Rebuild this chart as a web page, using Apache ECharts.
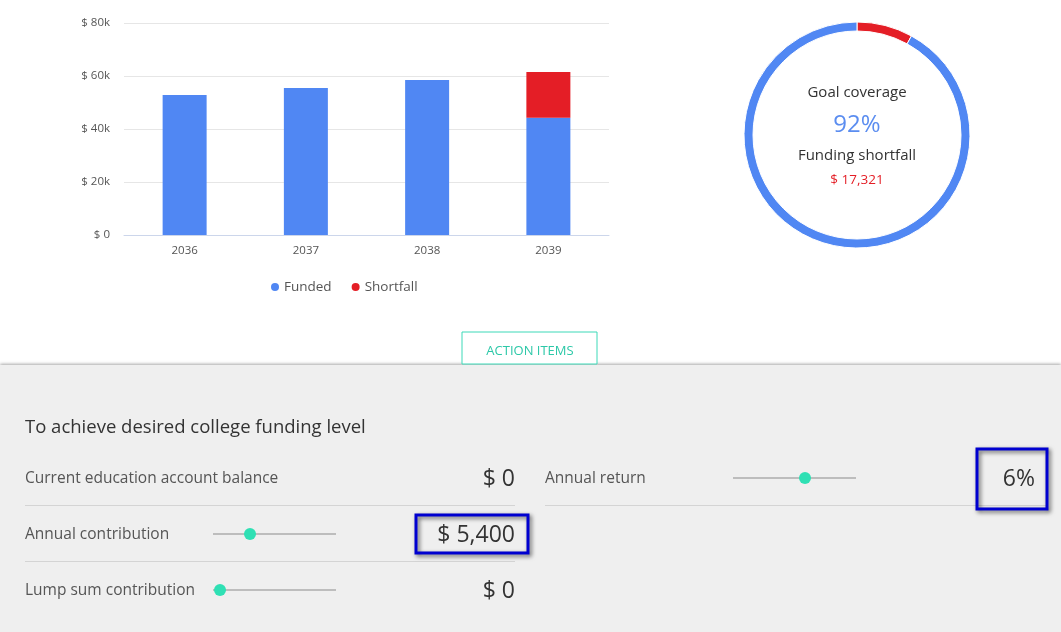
<!DOCTYPE html>
<html><head><meta charset="utf-8">
<script src="https://cdn.jsdelivr.net/npm/echarts@6/dist/echarts.min.js"></script>
<style>html,body{margin:0;padding:0;background:#fff}#main{width:1061px;height:632px}</style>
</head><body><div id="main"></div>
<script>
var years = ['2036', '2037', '2038', '2039'];
var funded = [52800, 55500, 58500, 44200];
var shortfall = [0, 0, 0, 17321];
var coverage = [92, 8]; // covered, shortfall share
var yTicks = [0, 20000, 40000, 60000, 80000];

var chart = echarts.init(document.getElementById('main'));
var font = '"Open Sans", sans-serif';

function t(x, y, text, size, color, align) {
    return {type: 'text', x: x, y: y, style: {text: text, fontSize: size, fill: color, fontFamily: font, align: align || 'left', verticalAlign: 'middle'}};
}
function line(x1, y1, x2, y2, color, w) {
    return {type: 'line', shape: {x1: x1, y1: y1, x2: x2, y2: y2}, style: {stroke: color, lineWidth: w || 1}};
}
function slider(x1, x2, y, knob) {
    return [line(x1, y, x2, y, '#bdbdbd', 2), {type: 'circle', shape: {cx: knob, cy: y, r: 6}, style: {fill: '#2fe0b4'}}];
}
function box(x, y, w, h) {
    return {type: 'rect', shape: {x: x, y: y, width: w, height: h}, style: {fill: 'none', stroke: '#0000d0', lineWidth: 3, shadowBlur: 4, shadowColor: 'rgba(0,0,0,0.6)', shadowOffsetX: 2, shadowOffsetY: 2}};
}

var panel = [
    {type: 'rect', shape: {x: 0, y: 365, width: 1061, height: 267}, style: {fill: '#efefef', shadowBlur: 3, shadowColor: 'rgba(0,0,0,0.35)', shadowOffsetY: -1}},
    {type: 'rect', shape: {x: 462, y: 332, width: 135, height: 32}, style: {fill: '#fff', stroke: '#3dd9b8', lineWidth: 1}},
    t(530, 351, 'ACTION ITEMS', 13, '#2cc8a8', 'center'),
    t(25, 428, 'To achieve desired college funding level', 18.5, '#333'),
    t(25, 479, 'Current education account balance', 15.5, '#555'),
    t(515, 479, '$ 0', 23, '#333', 'right'),
    line(25, 505.5, 515, 505.5, '#d4d4d4'),
    t(545, 479, 'Annual return', 15.5, '#555'),
    t(1035, 479, '6%', 23, '#333', 'right'),
    line(545, 505.5, 1047, 505.5, '#d4d4d4'),
    t(25, 535, 'Annual contribution', 15.5, '#555'),
    t(515, 535, '$ 5,400', 23, '#333', 'right'),
    line(25, 561.5, 515, 561.5, '#d4d4d4'),
    t(25, 591, 'Lump sum contribution', 15.5, '#555'),
    t(515, 591, '$ 0', 23, '#333', 'right'),
    box(977, 449, 70, 60),
    box(416, 515, 112, 38),
    t(857, 93, 'Goal coverage', 15, '#333', 'center'),
    t(857, 125, coverage[0] + '%', 24, '#5b8df0', 'center'),
    t(857, 156, 'Funding shortfall', 15, '#333', 'center'),
    t(857, 180, '$ 17,321', 13.5, '#e41e26', 'center')
].concat(slider(733, 856, 478, 805), slider(213, 336, 534, 250), slider(213, 336, 590, 220));

chart.setOption({
    animation: false,
    grid: {left: 124, right: 452, top: 23, bottom: 397},
    legend: {data: ['Funded', 'Shortfall'], top: 275, left: 266, icon: 'circle', itemWidth: 8, itemHeight: 8, itemGap: 20,
        textStyle: {fontSize: 13.5, color: '#555', fontFamily: font}},
    xAxis: {type: 'category', data: years, axisLine: {lineStyle: {color: '#ccd6eb'}},
        axisTick: {length: 10, lineStyle: {color: '#ccd6eb'}},
        axisLabel: {color: '#555', fontSize: 11.5, margin: 10, fontFamily: font}},
    yAxis: {type: 'value', min: 0, max: 80000, interval: 20000,
        axisLabel: {color: '#555', fontSize: 11.5, fontFamily: font, margin: 14,
            formatter: function (v) { return yTicks.indexOf(v) < 0 ? '' : (v === 0 ? '$ 0' : '$ ' + v / 1000 + 'k'); }},
        splitLine: {lineStyle: {color: '#e6e6e6'}}},
    series: [
        {name: 'Funded', type: 'bar', stack: 's', data: funded, barWidth: 44, itemStyle: {color: '#5087f3'}},
        {name: 'Shortfall', type: 'bar', stack: 's', data: shortfall, itemStyle: {color: '#e41e26'}},
        {type: 'pie', radius: [104, 113], center: [857, 135], startAngle: 90, label: {show: false}, silent: true,
            data: [{value: coverage[1], itemStyle: {color: '#e41e26'}}, {value: coverage[0], itemStyle: {color: '#5087f3'}}],
            itemStyle: {borderColor: '#fff', borderWidth: 1}}
    ],
    graphic: panel
});
</script></body></html>
